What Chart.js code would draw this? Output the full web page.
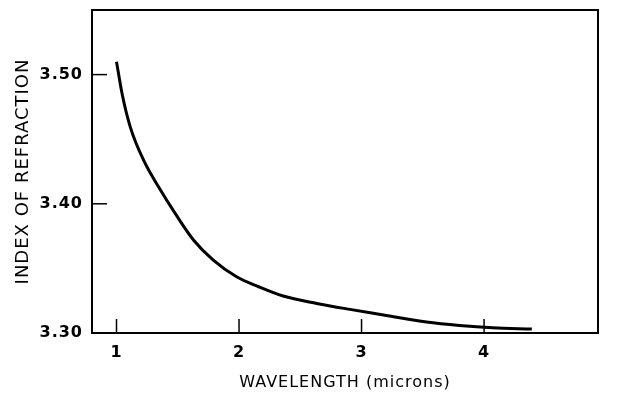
<!DOCTYPE html>
<html>
<head>
<meta charset="utf-8">
<script src="https://cdn.jsdelivr.net/npm/chart.js@4/dist/chart.umd.min.js"></script>
<style>
    html, body { margin: 0; padding: 0; background: #fff; }
    #wrap { width: 625px; height: 396px; }
</style>
</head>
<body>
<div id="wrap"><canvas id="refractionChart"></canvas></div>
<script>
// wavelength (microns) and index of refraction
const wavelength = [1.00, 1.046, 1.114, 1.222, 1.344, 1.48, 1.63, 1.79, 1.98, 2.16, 2.36, 2.635, 2.905, 3.18, 3.53, 3.80, 4.07, 4.39];
const refraction = [3.510, 3.485, 3.459, 3.4336, 3.413, 3.3924, 3.3718, 3.3564, 3.3435, 3.3358, 3.3286, 3.3229, 3.3183, 3.314, 3.3085, 3.3058, 3.304, 3.303];
const xTicks = [1, 2, 3, 4];
const yTicks = [3.30, 3.40, 3.50];

const points = wavelength.map((w, i) => ({ x: w, y: refraction[i] }));

// draw the frame box and the inward pointing ticks
const frameTicks = {
    id: 'frameTicks',
    afterDraw(chart) {
        const ctx = chart.ctx;
        const area = chart.chartArea;
        const xs = chart.scales.x;
        const ys = chart.scales.y;
        ctx.save();
        ctx.strokeStyle = '#000';
        ctx.lineWidth = 2;
        ctx.strokeRect(area.left, area.top, area.right - area.left, area.bottom - area.top);
        ctx.lineWidth = 1.5;
        xTicks.forEach(v => {
            const px = xs.getPixelForValue(v);
            ctx.beginPath();
            ctx.moveTo(px, area.bottom);
            ctx.lineTo(px, area.bottom - 14);
            ctx.stroke();
        });
        yTicks.forEach(v => {
            const py = ys.getPixelForValue(v);
            ctx.beginPath();
            ctx.moveTo(area.left, py);
            ctx.lineTo(area.left + 15, py);
            ctx.stroke();
        });
        ctx.restore();
    }
};

const spacing = {
    id: 'spacing',
    beforeDraw(chart) {
        chart.ctx.letterSpacing = '1px';
    }
};

const ctx = document.getElementById('refractionChart').getContext('2d');
new Chart(ctx, {
    type: 'line',
    data: {
        datasets: [{
            data: points,
            borderColor: '#000',
            borderWidth: 3,
            pointRadius: 0,
            cubicInterpolationMode: 'monotone',
            fill: false
        }]
    },
    options: {
        responsive: true,
        maintainAspectRatio: false,
        animation: false,
        layout: { padding: { top: 10, right: 27, left: 0, bottom: 0 } },
        plugins: {
            legend: { display: false },
            tooltip: { enabled: false }
        },
        scales: {
            x: {
                type: 'linear',
                min: 0.8,
                max: 4.93,
                afterBuildTicks: scale => { scale.ticks = xTicks.map(v => ({ value: v })); },
                afterFit: scale => {
                    scale.height = 63;
                    scale.paddingLeft = 0;
                    scale.paddingRight = 0;
                },
                grid: { display: false, drawTicks: false },
                border: { display: false },
                ticks: {
                    color: '#000',
                    padding: 10,
                    font: { family: 'DejaVu Sans', size: 16, weight: 'bold' },
                    callback: v => String(v)
                },
                title: {
                    display: true,
                    text: 'WAVELENGTH (microns)',
                    color: '#000',
                    padding: { top: 6 },
                    font: { family: 'DejaVu Sans', size: 16 }
                }
            },
            y: {
                min: 3.30,
                max: 3.55,
                afterBuildTicks: scale => { scale.ticks = yTicks.map(v => ({ value: v })); },
                afterFit: scale => {
                    scale.width = 92;
                    scale.paddingTop = 0;
                    scale.paddingBottom = 0;
                },
                grid: { display: false, drawTicks: false },
                border: { display: false },
                ticks: {
                    color: '#000',
                    padding: 9,
                    font: { family: 'DejaVu Sans', size: 16, weight: 'bold' },
                    callback: v => Number(v).toFixed(2)
                },
                title: {
                    display: true,
                    text: 'INDEX OF REFRACTION',
                    color: '#000',
                    padding: { top: 13, bottom: 0 },
                    font: { family: 'DejaVu Sans', size: 18 }
                }
            }
        }
    },
    plugins: [frameTicks, spacing]
});
</script>
</body>
</html>
